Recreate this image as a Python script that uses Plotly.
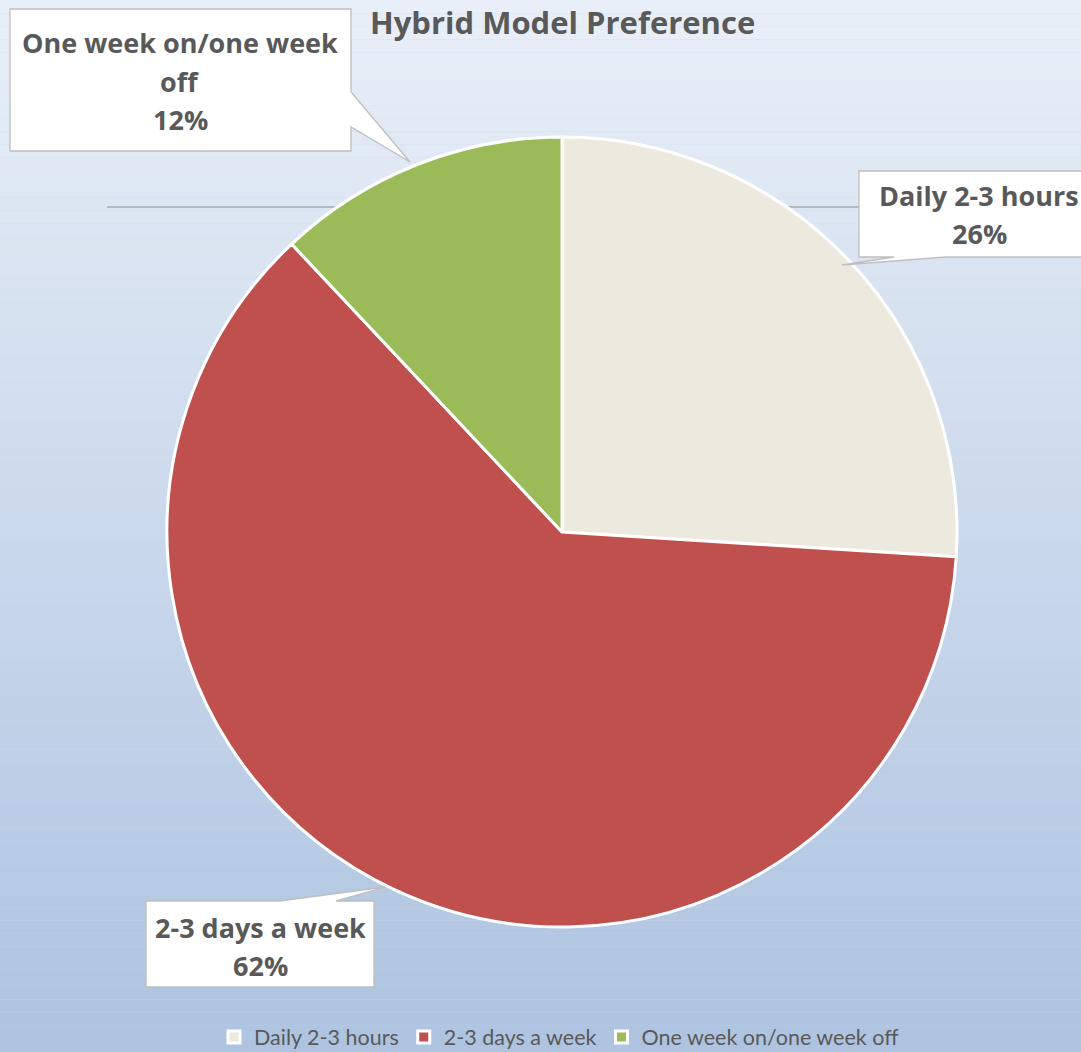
import plotly.graph_objects as go

W, H = 1081, 1052

# ---- data ----
labels = ["Daily 2-3 hours", "2-3 days a week", "One week on/one week off"]
values = [26, 62, 12]
colors = ["#ECE9DF", "#C0504D", "#9BBB59"]
title_text = "Hybrid Model Preference"
label_lines = [["Daily 2-3 hours"], ["2-3 days a week"], ["One week on/one week", "off"]]

BFONT = "Open Sans"
LFONT = "Lato"
GREY = "#595959"

def px(x):
    return x / W

def py(y):
    return 1 - y / H

fig = go.Figure()

# pie geometry (pixels)
cx, cy, r = 562, 532, 395
fig.add_trace(go.Pie(
    labels=labels, values=values, sort=False, direction="clockwise", rotation=0,
    marker=dict(colors=colors, line=dict(color="white", width=3)),
    textinfo="none", hoverinfo="label+percent",
    domain=dict(x=[px(cx - r), px(cx + r)], y=[py(cy + r), py(cy - r)]),
))

shapes = []
# gradient background
top = (0xE9, 0xEF, 0xF8)
bot = (0xAD, 0xC3, 0xE0)
N = 80
for i in range(N):
    t = (i + 0.5) / N
    c = tuple(round(top[k] + (bot[k] - top[k]) * t) for k in range(3))
    shapes.append(dict(type="rect", xref="paper", yref="paper", layer="below",
                       x0=0, x1=1, y0=1 - i / N, y1=1 - (i + 1) / N,
                       fillcolor="rgb(%d,%d,%d)" % c, line=dict(width=0)))

# stray leader lines behind the pie
for (x0, x1, y) in [(107, 340, 207), (770, 860, 207)]:
    shapes.append(dict(type="line", xref="paper", yref="paper", layer="below",
                       x0=px(x0), x1=px(x1), y0=py(y), y1=py(y),
                       line=dict(color="#8c8c8c", width=1.2)))

def path(pts):
    return "M " + " L ".join("%.5f,%.5f" % (px(x), py(y)) for x, y in pts) + " Z"

# callout polygons (box + pointer)
callouts = [
    [(10, 9), (351, 9), (351, 92), (410, 162), (351, 127), (351, 151), (10, 151)],
    [(859, 171), (1100, 171), (1100, 257), (946, 257), (842, 265), (894, 257), (859, 257)],
    [(146, 901), (280, 901), (385, 887), (336, 901), (374, 901), (374, 987), (146, 987)],
]
for pts in callouts:
    shapes.append(dict(type="path", xref="paper", yref="paper", layer="above",
                       path=path(pts), fillcolor="white",
                       line=dict(color="#bfbfbf", width=1.3)))

total = sum(values)
# (center x, first line y) per label, pixel positions
anchors = [(979, 195), (260, 927), (180, 43)]
LINE = 38.5
annotations = []
for i in range(len(labels)):
    pct = "%d%%" % round(values[i] * 100 / total)
    lines = label_lines[i] + [pct]
    for j, s in enumerate(lines):
        annotations.append(dict(xref="paper", yref="paper", x=px(anchors[i][0]),
                                y=py(anchors[i][1] + j * LINE),
                                xanchor="center", yanchor="middle", showarrow=False,
                                text="<b>%s</b>" % s,
                                font=dict(family=BFONT, size=27, color=GREY)))

annotations.append(dict(xref="paper", yref="paper", x=px(562), y=py(22), xanchor="center",
                        yanchor="middle", showarrow=False,
                        text="<b>%s</b>" % title_text,
                        font=dict(family=BFONT, size=31, color=GREY)))

fig.update_layout(
    width=W, height=H, margin=dict(l=0, r=0, t=0, b=0, autoexpand=False),
    paper_bgcolor="#cbd9ec", plot_bgcolor="rgba(0,0,0,0)",
    shapes=shapes, annotations=annotations,
    showlegend=True,
    legend=dict(orientation="h", x=px(214), xanchor="left", y=py(1037), yanchor="middle",
                font=dict(family=LFONT, size=21.5, color=GREY), bgcolor="rgba(0,0,0,0)",
                itemwidth=30),
)

fig.write_html("out.html", config={"displayModeBar": False},
               post_script="document.body.style.margin='0';document.body.style.overflow='hidden';")
